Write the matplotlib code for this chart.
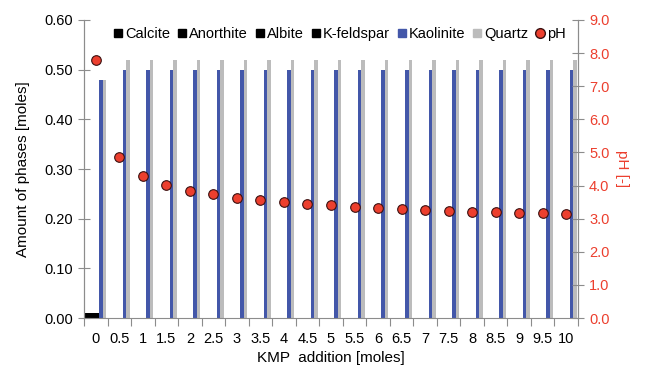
import numpy as np
import matplotlib
matplotlib.use("Agg")
import matplotlib.pyplot as plt
from matplotlib.lines import Line2D

plt.rcParams['font.family'] = ['Liberation Sans', 'DejaVu Sans']

# data
kmp = ['0', '0.5', '1', '1.5', '2', '2.5', '3', '3.5', '4', '4.5', '5',
       '5.5', '6', '6.5', '7', '7.5', '8', '8.5', '9', '9.5', '10']
calcite = [0.01] + [0.0] * 20
anorthite = [0.01] + [0.0] * 20
albite = [0.01] + [0.0] * 20
kfeldspar = [0.01] + [0.0] * 20
kaolinite = [0.48] + [0.50] * 20
quartz = [0.48] + [0.52] * 20
ph = [7.79, 4.87, 4.29, 4.01, 3.84, 3.73, 3.63, 3.55, 3.50, 3.45, 3.40,
      3.36, 3.32, 3.29, 3.26, 3.24, 3.21, 3.19, 3.17, 3.16, 3.14]

series = [('Calcite', calcite, 'black'),
          ('Anorthite', anorthite, 'black'),
          ('Albite', albite, 'black'),
          ('K-feldspar', kfeldspar, 'black'),
          ('Kaolinite', kaolinite, '#4357a9'),
          ('Quartz', quartz, '#bcbcbc')]

red = '#ec3f2e'
grey = '#8c8c8c'

fig = plt.figure(figsize=(6.49, 3.69), dpi=100)
ax = fig.add_axes([0.1294, 0.1382, 0.7612, 0.8076])
ax2 = ax.twinx()

x = np.arange(len(kmp))
w = 0.149
for i, (name, vals, col) in enumerate(series):
    ax.bar(x - 0.45 + w * (i + 0.5), vals, width=w, color=col, linewidth=0)

ax2.scatter(x, ph, s=48, color=red, edgecolors='#3a1010', linewidths=0.8, zorder=5)

ax.set_xlim(-0.5, len(kmp) - 0.5)
ax.set_ylim(0, 0.6)
ax2.set_ylim(0, 9)
ax.set_yticks(np.arange(0, 0.61, 0.1))
ax.set_yticklabels([f'{v:.2f}' for v in np.arange(0, 0.61, 0.1)])
ax2.set_yticks(np.arange(0, 9.1, 1))
ax2.set_yticklabels([f'{v:.1f}' for v in np.arange(0, 9.1, 1)])

ax.set_xticks(np.arange(-0.5, len(kmp), 1))
ax.set_xticklabels([])
ax.set_xticks(x, minor=True)
ax.set_xticklabels(kmp, minor=True)
ax.tick_params(axis='x', which='minor', length=0, pad=10, labelsize=10.5)
ax.tick_params(axis='x', which='major', direction='out', length=6, color=grey)
ax.tick_params(axis='y', direction='inout', length=8, color=grey, labelsize=10.5, pad=4)
ax2.tick_params(axis='y', direction='inout', length=8, color=grey, labelsize=10.5,
                labelcolor=red, pad=4)

for a in (ax, ax2):
    a.spines['top'].set_visible(False)
    for s in ('left', 'right', 'bottom'):
        a.spines[s].set_color(grey)
ax2.spines['bottom'].set_visible(False)

ax.set_xlabel('KMP  addition [moles]', fontsize=11, labelpad=4)
ax.set_ylabel('Amount of phases [moles]', fontsize=11, labelpad=10)
ax2.set_ylabel('pH [-]', fontsize=11, color=red, rotation=270, labelpad=14)

handles = [Line2D([], [], marker='s', linestyle='none', color=col, markersize=6)
           for _, _, col in series]
handles.append(Line2D([], [], marker='o', linestyle='none', color=red,
                      markeredgecolor='#3a1010', markersize=7))
labels = [s[0] for s in series] + ['pH']
ax.legend(handles, labels, ncol=7, frameon=False, loc='upper center',
          bbox_to_anchor=(0.518, 0.995), fontsize=10.5, handlelength=0.6,
          handletextpad=0.15, columnspacing=0.55, borderaxespad=0)

fig.savefig('out.png', dpi=100)
